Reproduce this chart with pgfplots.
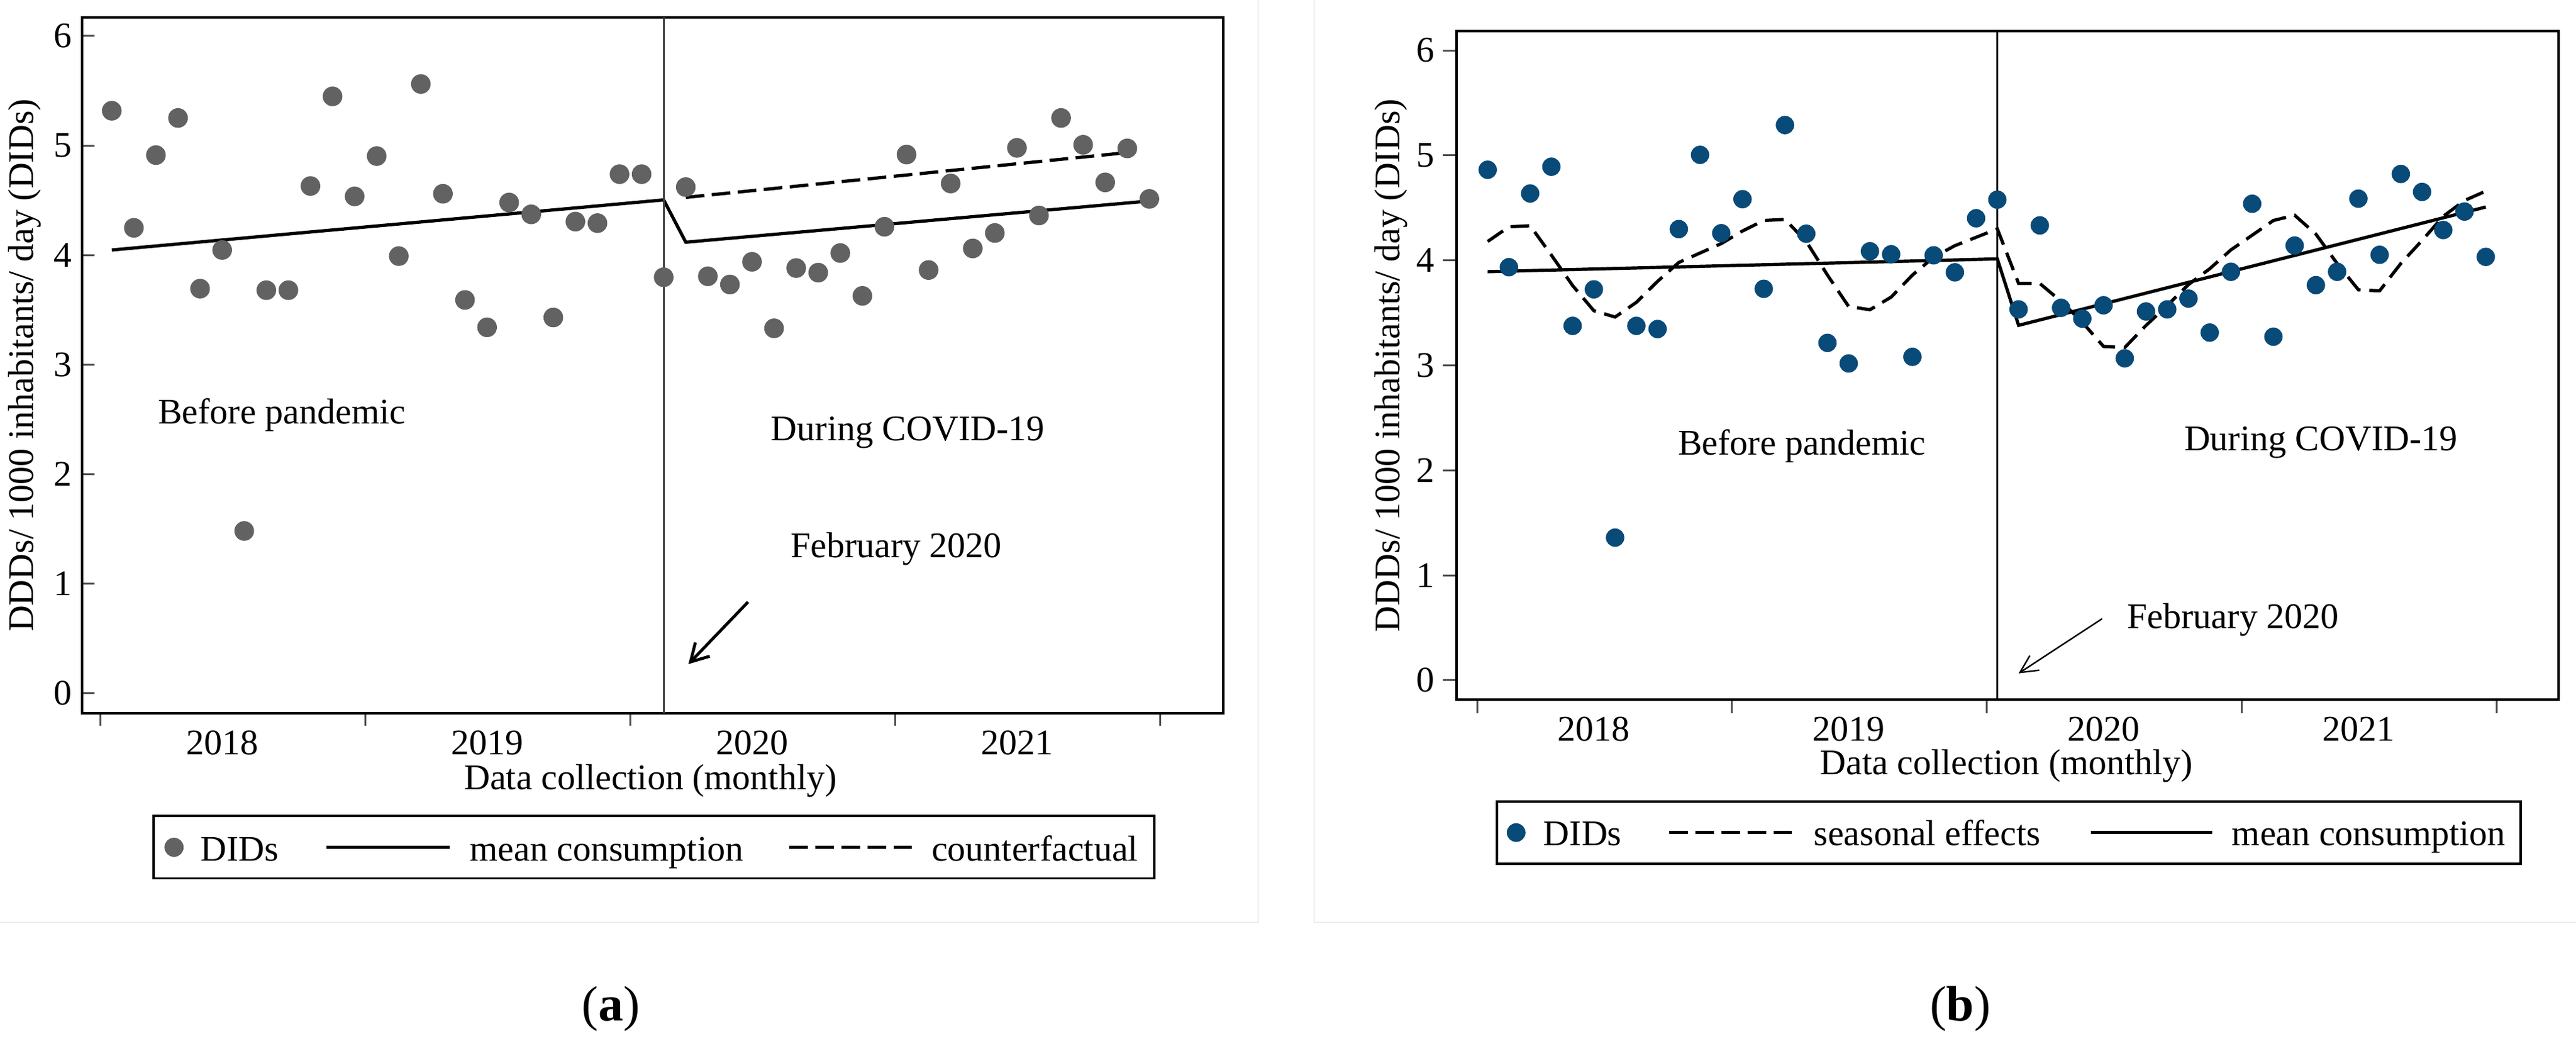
\documentclass[border=0pt]{standalone}
\usepackage{fontspec}
\setmainfont{Liberation Serif}
\usepackage{pgfplots}
\usepackage{pgfplotstable}
\pgfplotsset{compat=1.18}
\usetikzlibrary{arrows.meta}

\definecolor{dotgray}{RGB}{98,98,98}
\definecolor{dotblue}{RGB}{8,74,120}
\definecolor{tickgray}{RGB}{80,80,80}

\pgfplotstableread{
t y
1 5.318
2 4.249
3 4.913
4 5.252
5 3.694
6 4.047
7 1.482
8 3.680
9 3.680
10 4.631
11 5.449
12 4.536
13 4.904
14 3.991
15 5.562
16 4.560
17 3.591
18 3.341
19 4.480
20 4.372
21 3.431
22 4.306
23 4.292
24 4.739
25 4.739
26 3.798
27 4.621
28 3.807
29 3.732
30 3.939
31 3.332
32 3.882
33 3.840
34 4.019
35 3.628
36 4.259
37 4.918
38 3.864
39 4.654
40 4.061
41 4.202
42 4.979
43 4.362
44 5.252
45 5.007
46 4.664
47 4.974
48 4.513
}\dataA

\pgfplotstableread{
t y
1 4.863
2 3.935
3 4.637
4 4.892
5 3.376
6 3.724
7 1.359
8 3.376
9 3.346
10 4.298
11 5.005
12 4.259
13 4.583
14 3.729
15 5.289
16 4.254
17 3.214
18 3.018
19 4.087
20 4.058
21 3.081
22 4.048
23 3.886
24 4.401
25 4.578
26 3.533
27 4.333
28 3.548
29 3.445
30 3.572
31 3.067
32 3.513
33 3.533
34 3.636
35 3.312
36 3.891
37 4.539
38 3.273
39 4.141
40 3.764
41 3.891
42 4.588
43 4.053
44 4.823
45 4.652
46 4.289
47 4.465
48 4.033
}\dataB

\pgfplotstableread{
t y
1 4.18
2 4.32
3 4.33
4 4.05
5 3.76
6 3.52
7 3.46
8 3.60
9 3.80
10 3.98
11 4.07
12 4.16
13 4.28
14 4.38
15 4.39
16 4.18
17 3.86
18 3.56
19 3.53
20 3.65
21 3.86
22 4.03
23 4.14
24 4.22
25 4.30
26 3.78
27 3.78
28 3.61
29 3.41
30 3.18
31 3.17
32 3.38
33 3.57
34 3.77
35 3.92
36 4.10
37 4.24
38 4.38
39 4.43
40 4.25
41 3.97
42 3.72
43 3.71
44 3.97
45 4.19
46 4.42
47 4.57
48 4.66
}\seasB

\pgfplotsset{
  panel/.style={
    scale only axis,
    axis line style={black,line width=1.1pt},
    xtick pos=bottom, ytick pos=left,
    xtick={0.5,12.5,24.5,36.5,48.5},
    xticklabels={},
    extra x ticks={6,18,30,42},
    extra x tick labels={2018,2019,2020,2021},
    extra x tick style={major tick length=0pt, xticklabel style={yshift=-1.9pt}},
    ytick={0,1,2,3,4,5,6},
    /pgf/number format/assume math mode=true,
    tick style={tickgray,line width=0.75pt},
    minor tick num=0,
    xlabel={Data collection (monthly)},
    ylabel={DDDs/ 1000 inhabitants/ day (DIDs)},
    legend columns=3,
    legend cell align=left,
    legend style={draw=black, line width=0.9pt, inner ysep=0pt, fill=white,
      /tikz/every even column/.append style={column sep=0pt}},
  },
}

\begin{document}
\fontsize{14.5}{17}\selectfont
\begin{tikzpicture}
\useasboundingbox (0,0) rectangle (1035.5pt,420.25pt);

% faint panel borders
\draw[black!7, line width=0.6pt] (0pt,49.5pt) -- (505.75pt,49.5pt) -- (505.75pt,420.25pt);
\draw[black!7, line width=0.6pt] (528.25pt,420.25pt) -- (528.25pt,49.5pt) -- (1035.5pt,49.5pt);

% ---------------- Panel (a) ----------------
\begin{axis}[panel,
  at={(33pt,133.5pt)}, anchor=south west,
  width=458.75pt, height=279.75pt,
  xmin=-0.345, xmax=51.35, ymin=-0.182, ymax=6.17,
  tick align=outside, ytick align=inside, major tick length=5pt,
  yticklabel style={xshift=1pt},
  xlabel style={at={(axis description cs:0.498,-0.0974)},anchor=center},
  ylabel style={at={(axis description cs:-0.0501,0.5)},anchor=center},
  legend style={at={(0.06158,-0.1461)},anchor=north west, inner xsep=6.5pt,
    nodes={inner sep=0pt, text height=18.1pt, text depth=7pt}},
]
\addplot[only marks, mark=*, mark size=3.75pt, color=dotgray,
  mark options={draw=dotgray, fill=dotgray},
  legend image code/.code={\path[draw=none,fill=none] (0pt,0pt) -- (12.5pt,0pt); \fill[dotgray, overlay] (1.75pt,0pt) circle (3.4pt);}]
  table[x=t,y=y]{\dataA};
\addlegendentry{DIDs}
\addplot[black, line width=1.3pt,
  legend image code/.code={\path[draw=none,fill=none] (0pt,0pt) -- (76.75pt,0pt); \draw[black, line width=1.3pt] (19.25pt,0pt) -- (68.75pt,0pt);}]
  coordinates {(1,4.047) (26,4.504) (27,4.118) (48,4.494)};
\addlegendentry{mean consumption}
\addplot[black, line width=1.3pt, dash pattern=on 7.5pt off 3pt,
  legend image code/.code={\path[draw=none,fill=none] (0pt,0pt) -- (75.75pt,0pt); \draw[black, line width=1.3pt, dash pattern=on 7.5pt off 3pt] (18.5pt,0pt) -- (67.75pt,0pt);}]
  coordinates {(27,4.527) (47,4.936)};
\addlegendentry{counterfactual}
\addplot[forget plot, black!75, line width=0.75pt] coordinates {(26,-0.182) (26,6.17)};
\draw[line width=1.2pt, -{Straight Barb[length=7pt,width=8pt]}] (axis cs:29.82,0.834) -- (axis cs:27.12,0.267);
\node at (axis cs:8.70,2.54) {Before pandemic};
\node at (axis cs:37.06,2.38) {During COVID-19};
\node at (axis cs:36.53,1.317) {February 2020};
\end{axis}

% ---------------- Panel (b) ----------------
\begin{axis}[panel,
  at={(585.5pt,139pt)}, anchor=south west,
  width=443pt, height=268.75pt,
  xmin=-0.466, xmax=51.43, ymin=-0.184, ymax=6.184,
  tick align=outside, major tick length=5.5pt,
  yticklabel style={xshift=1.75pt},
  xlabel style={at={(axis description cs:0.4991,-0.0995)},anchor=center},
  ylabel style={at={(axis description cs:-0.0593,0.5)},anchor=center},
  legend style={at={(0.03555,-0.1507)},anchor=north west, inner xsep=6pt,
    nodes={inner sep=0pt, text height=17.6pt, text depth=7.4pt}},
]
\addplot[only marks, mark=*, mark size=3.5pt, color=dotblue,
  mark options={draw=dotblue, fill=dotblue},
  legend image code/.code={\path[draw=none,fill=none] (0pt,0pt) -- (12.75pt,0pt); \fill[dotblue, overlay] (1.75pt,0pt) circle (3.3pt);}]
  table[x=t,y=y]{\dataB};
\addlegendentry{DIDs}
\addplot[black, line width=1.3pt, dash pattern=on 7.5pt off 3.5pt,
  legend image code/.code={\path[draw=none,fill=none] (0pt,0pt) -- (77.25pt,0pt); \draw[black, line width=1.3pt, dash pattern=on 7.5pt off 3pt] (19.25pt,0pt) -- (68.5pt,0pt);}]
  table[x=t,y=y]{\seasB};
\addlegendentry{seasonal effects}
\addplot[black, line width=1.3pt,
  legend image code/.code={\path[draw=none,fill=none] (0pt,0pt) -- (77pt,0pt); \draw[black, line width=1.3pt] (20.25pt,0pt) -- (69pt,0pt);}]
  coordinates {(1,3.892) (25,4.014) (26,3.381) (48,4.508)};
\addlegendentry{mean consumption}
\addplot[forget plot, black, line width=0.8pt] coordinates {(25,-0.184) (25,6.184)};
\draw[line width=0.6pt, -{Straight Barb[length=7pt,width=7pt]}] (axis cs:29.93,0.586) -- (axis cs:26.0,0.066);
\node at (axis cs:15.79,2.232) {Before pandemic};
\node at (axis cs:40.24,2.268) {During COVID-19};
\node at (axis cs:36.1,0.574) {February 2020};
\end{axis}

% captions
\node[font=\fontsize{20}{24}\selectfont] at (245.5pt,14.75pt) {(\textbf{a})};
\node[font=\fontsize{20}{24}\selectfont] at (788pt,14.75pt) {(\textbf{b})};
\end{tikzpicture}
\end{document}
